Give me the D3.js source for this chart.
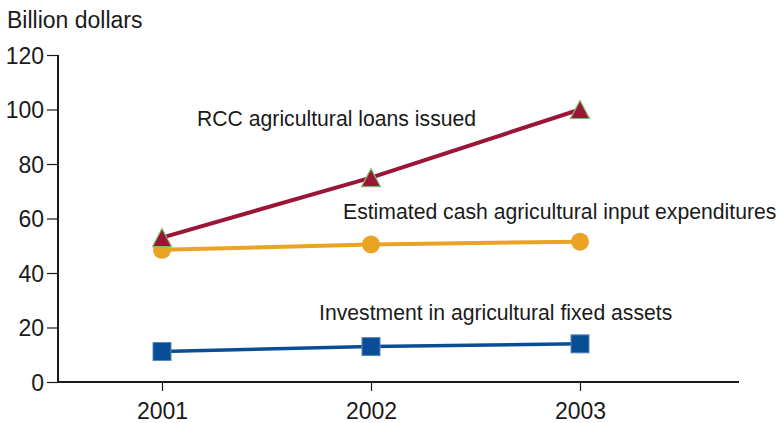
<!DOCTYPE html>
<html>
<head>
<meta charset="utf-8">
<script src="https://cdn.jsdelivr.net/npm/d3@7"></script>
<style>
  html, body { margin: 0; padding: 0; background: #fff; }
  svg { display: block; font-family: "Liberation Sans", Arial, Helvetica, sans-serif; }
</style>
</head>
<body>
<svg id="chart" width="781" height="423"></svg>
<script>
// Years on the x axis
const years = ["2001", "2002", "2003"];
// Billion dollars per year
const rccLoans = [53, 75, 100];
const cashInputs = [48.5, 50.5, 51.5];
const fixedAssets = [11.2, 13, 14];
const yTicks = [0, 20, 40, 60, 80, 100, 120];

const svg = d3.select("#chart");
const x = d3.scalePoint().domain(years).range([162, 580]);
const y = d3.scaleLinear().domain([0, 120]).range([382, 55]);

const ink = "#1a1a1a";

// Y axis
const yAxis = svg.append("g").attr("transform", "translate(58,0)")
  .call(d3.axisLeft(y).tickValues(yTicks).tickSize(11).tickPadding(3));
yAxis.select(".domain").remove();
yAxis.selectAll("line").attr("stroke", ink).attr("stroke-width", 1.2);
yAxis.selectAll("text").attr("font-size", 23).attr("fill", ink).attr("dy", "0.35em");
svg.append("line").attr("x1", 58).attr("x2", 58).attr("y1", y(120)).attr("y2", y(0) + 1)
  .attr("stroke", ink).attr("stroke-width", 2);

// X axis
const xAxis = svg.append("g").attr("transform", `translate(0,${y(0)})`)
  .call(d3.axisBottom(x).tickSize(9).tickPadding(12));
xAxis.select(".domain").remove();
xAxis.selectAll("line").attr("stroke", ink).attr("stroke-width", 1.2);
xAxis.selectAll("text").attr("font-size", 23).attr("fill", ink);
svg.append("line").attr("x1", 57).attr("x2", 739).attr("y1", y(0)).attr("y2", y(0))
  .attr("stroke", ink).attr("stroke-width", 2);

// Axis title
svg.append("text").attr("x", 7).attr("y", 28).attr("font-size", 23).attr("fill", ink)
  .text("Billion dollars");

const line = d3.line().x((d, i) => x(years[i])).y(d => y(d));

// Fixed assets series (blue squares)
svg.append("path").datum(fixedAssets).attr("d", line)
  .attr("fill", "none").attr("stroke", "#0a4d97").attr("stroke-width", 3.5);
svg.selectAll(".sq").data(fixedAssets).join("rect")
  .attr("x", (d, i) => x(years[i]) - 9).attr("y", d => y(d) - 9)
  .attr("width", 18).attr("height", 18)
  .attr("fill", "#0a4d97").attr("stroke", "#5a86c0").attr("stroke-width", 1);

// Cash input expenditures (orange circles)
svg.append("path").datum(cashInputs).attr("d", line)
  .attr("fill", "none").attr("stroke", "#eba325").attr("stroke-width", 4);
svg.selectAll(".dot").data(cashInputs).join("circle")
  .attr("cx", (d, i) => x(years[i])).attr("cy", d => y(d)).attr("r", 9)
  .attr("fill", "#eba325");

// RCC loans (red triangles)
svg.append("path").datum(rccLoans).attr("d", line)
  .attr("fill", "none").attr("stroke", "#9b1537").attr("stroke-width", 4);
svg.selectAll(".tri").data(rccLoans).join("path")
  .attr("d", (d, i) => {
    const cx = x(years[i]), cy = y(d);
    return `M${cx},${cy - 9}L${cx + 9.5},${cy + 9}L${cx - 9.5},${cy + 9}Z`;
  })
  .attr("fill", "#9b1537").attr("stroke", "#7cbf6a").attr("stroke-width", 1.2);

// Series labels
const labels = [
  { text: "RCC agricultural loans issued", x: 197, y: 126 },
  { text: "Estimated cash agricultural input expenditures", x: 343, y: 219 },
  { text: "Investment in agricultural fixed assets", x: 319, y: 320 }
];
svg.selectAll(".lbl").data(labels).join("text")
  .attr("x", d => d.x).attr("y", d => d.y)
  .attr("font-size", 21.2).attr("fill", ink)
  .text(d => d.text);
</script>
</body>
</html>
